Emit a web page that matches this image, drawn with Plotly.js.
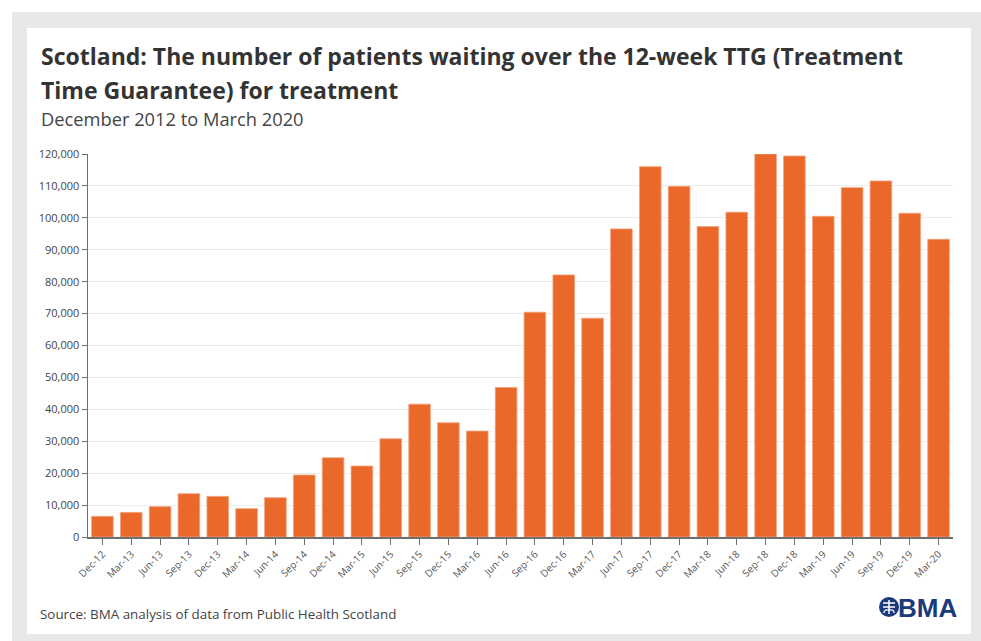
<!DOCTYPE html>
<html>
<head>
<meta charset="utf-8">
<script src="https://cdn.plot.ly/plotly-3.0.1.min.js"></script>
<style>
  html, body { margin: 0; padding: 0; background: #ffffff; width: 981px; height: 641px; overflow: hidden; }
  #frame { position: absolute; left: 12px; top: 12px; width: 969px; height: 629px; background: #e8e8e6; }
  #chart { position: absolute; left: 27px; top: 28px; width: 944px; height: 606px; }
</style>
</head>
<body>
<div id="frame"></div>
<div id="chart"></div>
<script>
const categories = ["Dec-12","Mar-13","Jun-13","Sep-13","Dec-13","Mar-14","Jun-14","Sep-14","Dec-14","Mar-15",
  "Jun-15","Sep-15","Dec-15","Mar-16","Jun-16","Sep-16","Dec-16","Mar-17","Jun-17","Sep-17",
  "Dec-17","Mar-18","Jun-18","Sep-18","Dec-18","Mar-19","Jun-19","Sep-19","Dec-19","Mar-20"];
const patientsWaiting = [6470, 7720, 9500, 13570, 12730, 8870, 12310, 19410, 24830, 22230,
  30780, 41630, 35790, 33180, 46850, 70430, 82120, 68560, 96520, 116030,
  109880, 97250, 101740, 120000, 119370, 100490, 109460, 111550, 101430, 93290];
const yTickValues = [0,10000,20000,30000,40000,50000,60000,70000,80000,90000,100000,110000,120000];
const yTickLabels = ["0","10,000","20,000","30,000","40,000","50,000","60,000","70,000","80,000","90,000","100,000","110,000","120,000"];

const titleLine1 = "Scotland: The number of patients waiting over the 12-week TTG (Treatment";
const titleLine2 = "Time Guarantee) for treatment";
const subtitle = "December 2012 to March 2020";
const sourceText = "Source: BMA analysis of data from Public Health Scotland";

// layout geometry (pixels inside the chart div)
const W = 944, H = 606, mL = 61, mR = 18, mT = 126, mB = 97;
const pw = W - mL - mR, ph = H - mT - mB;
const px = x => (x - mL) / pw;
const py = y => (H - mB - y) / ph;

const font = "'Open Sans', 'Segoe UI', sans-serif";

const trace = {
  type: 'bar',
  x: categories,
  y: patientsWaiting,
  marker: { color: '#e9682a', line: { color: '#f3a27c', width: 0.8 } },
  hoverinfo: 'x+y'
};

const logoCx = 862, logoCy = 579, logoR = 10;

const layout = {
  width: W, height: H,
  margin: { l: mL, r: mR, t: mT, b: mB, pad: 0 },
  paper_bgcolor: '#ffffff',
  plot_bgcolor: '#ffffff',
  showlegend: false,
  bargap: 0.25,
  font: { family: font, color: '#444' },
  xaxis: {
    type: 'category',
    showgrid: false,
    showline: true, linecolor: '#6f6f6f', linewidth: 1.5,
    ticks: 'outside', ticklen: 6, tickcolor: '#6f6f6f', tickwidth: 1,
    tickangle: -45,
    tickfont: { family: font, size: 10, color: '#555' },
    fixedrange: true
  },
  yaxis: {
    range: [0, 120000],
    tickvals: yTickValues,
    ticktext: yTickLabels,
    showgrid: true, gridcolor: '#ececec', gridwidth: 1,
    zeroline: false,
    showline: true, linecolor: '#6f6f6f', linewidth: 1.5,
    ticks: 'outside', ticklen: 5, tickcolor: '#6f6f6f', tickwidth: 1,
    tickfont: { family: font, size: 11, color: '#444' },
    fixedrange: true
  },
  annotations: [
    { xref: 'paper', yref: 'paper', x: px(12), y: py(28.5), xanchor: 'left', yanchor: 'middle',
      text: '<b>' + titleLine1 + '</b>', showarrow: false, font: { family: font, size: 23, color: '#333' } },
    { xref: 'paper', yref: 'paper', x: px(12), y: py(62.5), xanchor: 'left', yanchor: 'middle',
      text: '<b>' + titleLine2 + '</b>', showarrow: false, font: { family: font, size: 23, color: '#333' } },
    { xref: 'paper', yref: 'paper', x: px(12), y: py(90), xanchor: 'left', yanchor: 'middle',
      text: subtitle, showarrow: false, font: { family: font, size: 18.3, color: '#444' } },
    { xref: 'paper', yref: 'paper', x: px(11), y: py(586), xanchor: 'left', yanchor: 'middle',
      text: sourceText, showarrow: false, font: { family: font, size: 13.4, color: '#444' } },
    { xref: 'paper', yref: 'paper', x: px(869), y: py(580), xanchor: 'left', yanchor: 'middle',
      text: '<b>BMA</b>', showarrow: false, font: { family: "'Liberation Sans', Arial, sans-serif", size: 26, color: '#1b3a7c' } }
  ],
  shapes: [
    { type: 'circle', xref: 'paper', yref: 'paper',
      x0: px(logoCx - logoR), x1: px(logoCx + logoR), y0: py(logoCy + logoR), y1: py(logoCy - logoR),
      fillcolor: '#1b3a7c', line: { width: 0 } },
    { type: 'line', xref: 'paper', yref: 'paper', x0: px(logoCx - 6), x1: px(logoCx + 6), y0: py(logoCy - 4), y1: py(logoCy - 4),
      line: { color: '#ffffff', width: 1.5 } },
    { type: 'line', xref: 'paper', yref: 'paper', x0: px(logoCx - 6), x1: px(logoCx + 6), y0: py(logoCy), y1: py(logoCy),
      line: { color: '#ffffff', width: 1.5 } },
    { type: 'line', xref: 'paper', yref: 'paper', x0: px(logoCx), x1: px(logoCx), y0: py(logoCy - 7), y1: py(logoCy + 7),
      line: { color: '#ffffff', width: 1.5 } },
    { type: 'path', xref: 'paper', yref: 'paper',
      path: 'M ' + px(logoCx - 5) + ' ' + py(logoCy + 6) + ' Q ' + px(logoCx - 5) + ' ' + py(logoCy + 2) + ' ' + px(logoCx) + ' ' + py(logoCy + 3),
      line: { color: '#ffffff', width: 1.3 } },
    { type: 'path', xref: 'paper', yref: 'paper',
      path: 'M ' + px(logoCx + 5) + ' ' + py(logoCy + 6) + ' Q ' + px(logoCx + 5) + ' ' + py(logoCy + 2) + ' ' + px(logoCx) + ' ' + py(logoCy + 3),
      line: { color: '#ffffff', width: 1.3 } }
  ]
};

Plotly.newPlot('chart', [trace], layout, { displayModeBar: false, staticPlot: true });
</script>
</body>
</html>
